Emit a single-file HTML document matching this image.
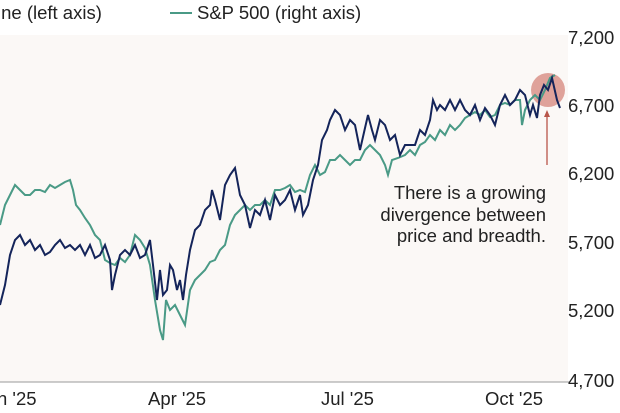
<!DOCTYPE html>
<html><head><meta charset="utf-8"><style>
body{margin:0;background:#fff;width:620px;height:413px;overflow:hidden;font-family:"Liberation Sans",sans-serif;}
svg{display:block}
</style></head><body>
<svg width="620" height="413" xmlns="http://www.w3.org/2000/svg" font-family="Liberation Sans, sans-serif">
<rect x="0" y="35" width="568" height="347" fill="#fbf8f6"/>
<line x1="0" y1="382" x2="570" y2="382" stroke="#9a9a9a" stroke-width="1"/>
<text x="-3" y="19" font-size="18.5" fill="#222">ine (left axis)</text>
<line x1="170" y1="13" x2="192" y2="13" stroke="#4a9a86" stroke-width="2"/>
<text x="197" y="19" font-size="18.5" fill="#222">S&amp;P 500 (right axis)</text>
<g font-size="18.5" fill="#222">
<text x="568" y="44">7,200</text>
<text x="568" y="112">6,700</text>
<text x="568" y="180">6,200</text>
<text x="568" y="249">5,700</text>
<text x="568" y="317">5,200</text>
<text x="568" y="387">4,700</text>
<text x="-3" y="405">n '25</text>
<text x="148" y="405">Apr '25</text>
<text x="321" y="405">Jul '25</text>
<text x="485" y="405">Oct '25</text>
</g>
<g font-size="18.5" fill="#222" text-anchor="end">
<text x="546" y="199">There is a growing</text>
<text x="546" y="221">divergence between</text>
<text x="546" y="242">price and breadth.</text>
</g>
<circle cx="548" cy="90" r="17" fill="#d9938a" opacity="0.85"/>
<line x1="547" y1="165" x2="547" y2="112" stroke="#b8564a" stroke-width="1.3"/>
<path d="M544,117 L547,110 L550,117 Z" fill="#b8564a"/>
<polyline fill="none" stroke="#4a9a86" stroke-width="2" points="0,225 5,205 10,195 15,185 20,190 25,195 30,195 35,190 40,190 45,192 50,185 55,188 60,185 65,182 70,180 73,190 76,205 80,210 85,218 90,225 95,235 100,240 105,260 110,263 115,265 120,258 125,262 130,255 135,235 140,240 145,248 150,265 155,300 160,330 163,340 166,300 170,310 175,305 180,315 185,325 190,290 195,280 200,275 205,270 210,262 215,260 220,250 225,245 230,225 235,215 240,210 245,205 250,210 255,205 260,205 265,200 270,205 275,190 280,190 285,188 290,185 295,192 300,190 305,192 310,175 315,165 320,175 325,172 330,160 335,160 340,155 345,160 350,165 355,160 360,160 365,150 370,145 375,150 380,155 385,165 388,175 392,160 398,158 405,155 410,150 415,155 420,145 425,142 430,135 435,140 440,130 445,135 450,125 455,130 460,125 465,118 470,115 475,112 480,115 485,110 490,117 495,115 500,105 505,103 510,105 515,100 520,100 522,125 525,110 530,100 535,95 540,100 545,90 550,78 555,75"/>
<polyline fill="none" stroke="#14245a" stroke-width="2" points="0,305 5,285 10,255 15,240 20,235 25,245 30,240 35,250 40,245 45,255 50,252 55,245 60,240 65,248 70,245 75,250 80,245 85,255 90,245 95,258 100,255 105,245 110,260 112,290 115,275 120,255 125,250 130,255 135,245 140,258 145,255 150,240 153,265 157,300 160,270 163,295 167,290 170,265 173,270 177,290 180,280 183,300 186,275 190,250 195,230 200,225 205,210 210,205 212,190 215,200 220,220 225,185 230,175 235,168 240,195 245,205 250,228 255,210 260,215 265,200 270,220 275,195 280,205 285,200 290,190 295,210 300,195 303,215 308,205 313,180 318,165 322,140 327,130 330,120 335,110 340,115 345,130 350,120 355,125 360,150 365,128 368,115 372,130 375,140 380,120 385,125 390,140 395,135 400,155 405,145 410,145 415,145 420,130 425,135 430,120 433,100 437,110 440,105 445,110 450,100 455,110 460,100 465,110 470,115 475,105 480,120 485,108 490,115 495,125 500,105 505,95 510,105 515,100 520,90 525,95 530,115 533,105 537,118 540,95 544,85 548,90 552,78 557,100 560,108"/>
</svg>
</body></html>
